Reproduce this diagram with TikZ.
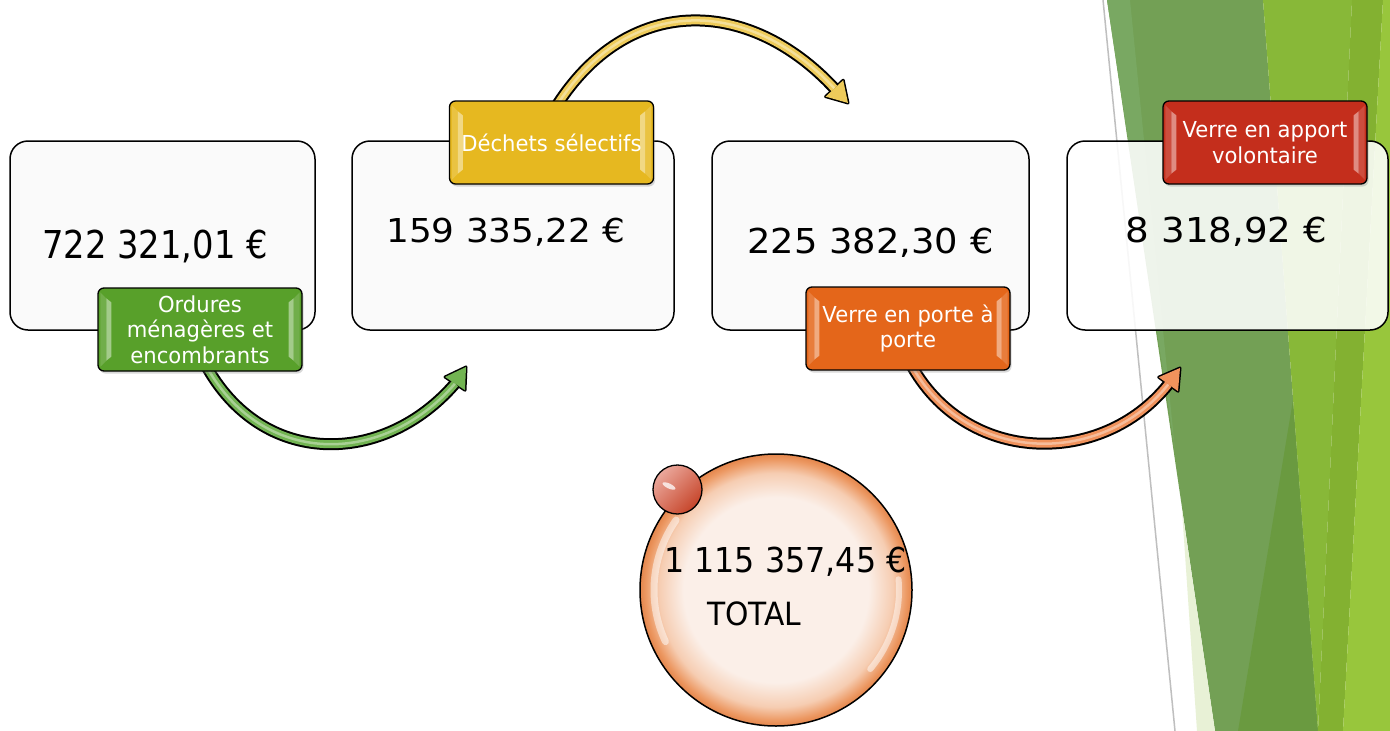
\documentclass[tikz,border=0pt]{standalone}
\usepackage{fontspec}
\usepackage{graphicx}
\setmainfont{DejaVu Sans}
\newfontfamily\labfont[FakeStretch=0.96]{DejaVu Sans}
\usetikzlibrary{shadows}
\definecolor{gA}{HTML}{73A055}
\definecolor{gAl}{HTML}{79A862}
\definecolor{gAd}{HTML}{6A9A40}
\definecolor{gB}{HTML}{88B838}
\definecolor{gBd}{HTML}{83B131}
\definecolor{gC}{HTML}{98C63C}
\definecolor{gPale}{HTML}{E8F1D6}
\definecolor{labG}{HTML}{58A02A}
\definecolor{labY}{HTML}{E6B820}
\definecolor{labO}{HTML}{E4661A}
\definecolor{labR}{HTML}{C42E1C}
\definecolor{arG}{HTML}{72B452}
\definecolor{arY}{HTML}{EECB5A}
\definecolor{arO}{HTML}{F0925C}
\definecolor{boxF}{HTML}{FAFAFA}
\definecolor{bubIn}{HTML}{FBEFE8}
\definecolor{bubMid}{HTML}{F6CDB2}
\definecolor{bubOut}{HTML}{EC9862}
\definecolor{bubRim}{HTML}{E4864C}
\definecolor{ballL}{HTML}{EBA89C}
\definecolor{ballD}{HTML}{C6452A}
\pgfdeclareradialshading{bubble}{\pgfpoint{0bp}{0bp}}{color(0bp)=(bubIn); color(17bp)=(bubIn); color(21.5bp)=(bubMid); color(24bp)=(bubOut); color(25bp)=(bubRim); color(50bp)=(bubRim)}
\pgfdeclarelayer{back}
\pgfdeclarelayer{mid}
\pgfsetlayers{back,mid,main}
\newcommand\amt[3]{\scalebox{#1}[1]{\fontsize{#2}{#2}\selectfont #3}}
\newcommand\myblockarrow[5]{%
  \draw[black, line width=12pt] #2;
  \filldraw[black, line width=3pt, line join=round] #3 -- #4 -- #5 -- cycle;
  \draw[#1, line width=8pt] #2;
  \draw[#1!45!white, line width=2.5pt, opacity=0.7] #2;
  \fill[#1] #3 -- #4 -- #5 -- cycle;
}
\newcommand\mybevel[2]{%
  \fill[#2!85!white]
    ([shift={(3pt,-5pt)}]#1.north west) -- ([shift={(9pt,-11pt)}]#1.north west) --
    ([shift={(9pt,11pt)}]#1.south west) -- ([shift={(3pt,5pt)}]#1.south west) -- cycle;
  \fill[#2!55!white]
    ([shift={(9pt,-11pt)}]#1.north west) -- ([shift={(14pt,-15pt)}]#1.north west) --
    ([shift={(14pt,15pt)}]#1.south west) -- ([shift={(9pt,11pt)}]#1.south west) -- cycle;
  \fill[#2!85!white]
    ([shift={(-3pt,-5pt)}]#1.north east) -- ([shift={(-9pt,-11pt)}]#1.north east) --
    ([shift={(-9pt,11pt)}]#1.south east) -- ([shift={(-3pt,5pt)}]#1.south east) -- cycle;
  \fill[#2!55!white]
    ([shift={(-9pt,-11pt)}]#1.north east) -- ([shift={(-14pt,-15pt)}]#1.north east) --
    ([shift={(-14pt,15pt)}]#1.south east) -- ([shift={(-9pt,11pt)}]#1.south east) -- cycle;
}
\begin{document}
\begin{tikzpicture}[x=1pt,y=-1pt,
  valbox/.style={draw=black, line width=1.5pt, rounded corners=18pt, minimum height=189pt, inner sep=0pt},
  amount/.style={inner sep=0pt, text=black, anchor=base},
  lab/.style={draw=black, line width=1.3pt, rounded corners=6pt, minimum width=204pt, minimum height=83pt,
    inner sep=0pt, align=center, text=white, font=\labfont\fontsize{22}{25.5}\selectfont, fill=#1,
    drop shadow={shadow xshift=1.5pt, shadow yshift=-2.5pt, opacity=0.3}},
  labtext/.style={inner sep=0pt, align=center, text=white, font=\labfont\fontsize{22}{25.5}\selectfont}
]
\useasboundingbox (0,0) rectangle (1390,731);

\begin{pgfonlayer}{back}
  \fill[white] (0,0) rectangle (1390,731);
  % background facets
  \fill[gA] (1107,0) -- (1263,0) -- (1318,731) -- (1215,731) -- cycle;
  \fill[gAl] (1107,0) -- (1130,0) -- (1175,450) -- cycle;
  \fill[gAd] (1238,731) -- (1318,731) -- (1293,400) -- cycle;
  \fill[gB] (1263,0) -- (1352,0) -- (1318,731) -- cycle;
  \fill[gBd] (1352,0) -- (1383,0) -- (1343,731) -- (1318,731) -- cycle;
  \fill[gC] (1383,0) -- (1390,0) -- (1390,731) -- (1343,731) -- cycle;
  \fill[gPale] (1197,731) -- (1215,731) -- (1182,510) -- cycle;
  \draw[black!25, line width=1.5pt] (1103,0) -- (1175,731);
  % value boxes
  \node[valbox, minimum width=305pt, fill=boxF] (b1) at (162.5,235.5) {};
  \node[valbox, minimum width=322pt, fill=boxF] (b2) at (513,235.5) {};
  \node[valbox, minimum width=317pt, fill=boxF] (b3) at (870.5,235.5) {};
  \node[valbox, minimum width=321pt, fill=white, fill opacity=0.88] (b4) at (1227.5,235.5) {};
  \node[amount] (v1) at (155,258) {\amt{0.88}{38.4}{722 321,01 €}};
  \node[amount] (v2) at (506,242) {\amt{1.09}{32.9}{159 335,22 €}};
  \node[amount] (v3) at (870.5,253) {\amt{1.075}{34.3}{225 382,30 €}};
  \node[amount] (v4) at (1226.5,242) {\amt{1.085}{34.3}{8 318,92 €}};
\end{pgfonlayer}

% category labels (box, bevel, text)
\node[lab=labG] (gL) at (200,329.5) {};
\mybevel{gL}{labG}
\node[labtext] (gLt) at (gL) {Ordures\\ménagères et\\encombrants};
\node[lab=labY] (yL) at (551.5,142.5) {};
\mybevel{yL}{labY}
\node[labtext] (yLt) at (yL) {Déchets sélectifs};
\node[lab=labO] (oL) at (908,328.5) {};
\mybevel{oL}{labO}
\node[labtext] (oLt) at (oL) {Verre en porte à\\porte};
\node[lab=labR] (rL) at (1265,142.5) {};
\mybevel{rL}{labR}
\node[labtext] (rLt) at (rL) {Verre en apport\\volontaire};

% curved block arrows
\coordinate (gT) at (466,367);
\coordinate (gE) at (455,383.6);
\coordinate (yT) at (848,103);
\coordinate (yE) at (834.4,88.4);
\coordinate (oT) at (1180,368);
\coordinate (oE) at (1168.4,384.2);
\begin{pgfonlayer}{mid}
  \myblockarrow{arG}{([xshift=5pt,yshift=8pt]gL.south) .. controls (261,468) and (383,467) .. (gE)}{(gT)}{(465,390.2)}{(445,377)}
  \myblockarrow{arY}{([xshift=3.5pt,yshift=-8pt]yL.north) .. controls (626.5,-6.9) and (748.6,-3.9) .. (yE)}{(yT)}{(843.2,80.2)}{(825.6,96.6)}
  \myblockarrow{arO}{([xshift=2pt,yshift=8pt]oL.south) .. controls (965,465.7) and (1101.8,467.8) .. (oE)}{(oT)}{(1178,391.2)}{(1158.7,377.2)}
\end{pgfonlayer}

% total bubble
\node[circle, draw=black, line width=1.5pt, minimum size=272pt, inner sep=0pt, shade, shading=bubble] (tot) at (776,590) {};
\draw[white, line width=7pt, opacity=0.5, line cap=round] (tot.center) ++(145:122pt) arc[start angle=145, end angle=205, radius=122pt];
\draw[white, line width=6pt, opacity=0.5, line cap=round] (tot.center) ++(-40:123pt) arc[start angle=-40, end angle=5, radius=123pt];
\node[amount] (tv) at (785.5,572) {\amt{0.925}{34.3}{1 115 357,45 €}};
\node[amount] (tl) at (754.3,625) {\amt{0.93}{32}{TOTAL}};
\node[circle, draw=black, line width=1.3pt, minimum size=49pt, inner sep=0pt, top color=ballL, bottom color=ballD, shading angle=45] (ball) at (677.5,489.5) {};
\fill[white, opacity=0.75, rotate around={-25:(669,486)}] (669,486) ellipse [x radius=7pt, y radius=2.5pt];
\end{tikzpicture}
\end{document}
